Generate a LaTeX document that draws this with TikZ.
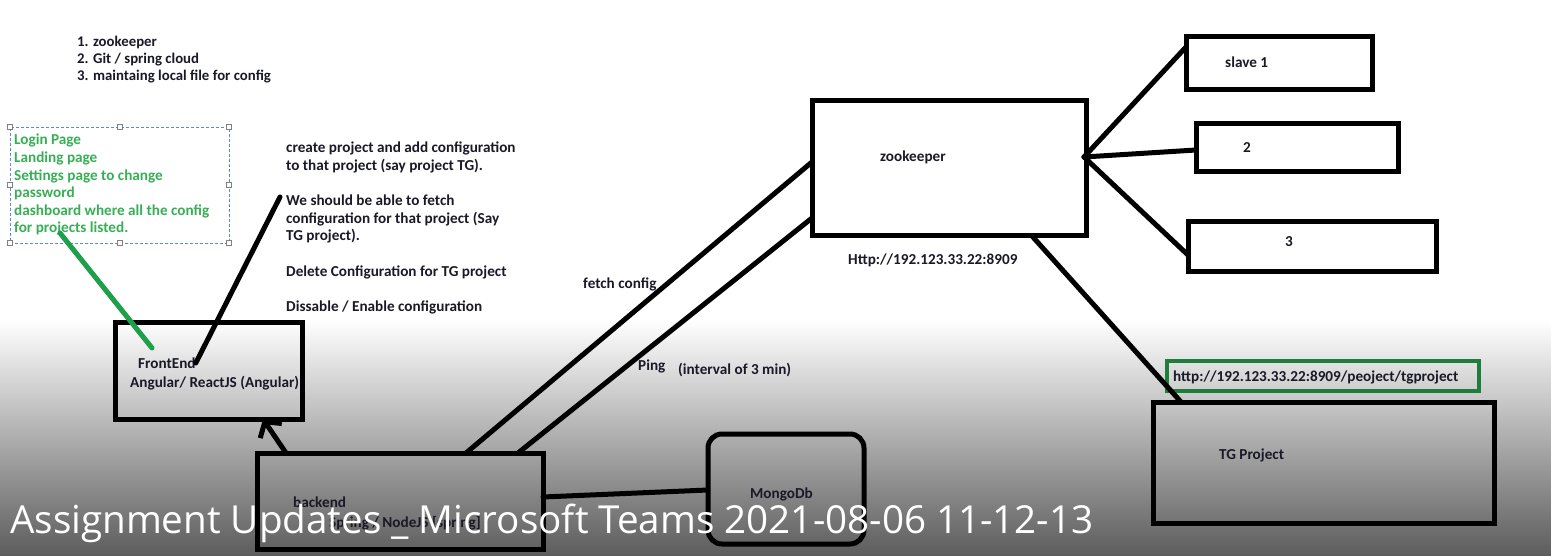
\documentclass[tikz,border=0pt]{standalone}
\usepackage{fontspec}
\setmainfont{Carlito}
\newfontfamily\titlefont{Open Sans}
\usetikzlibrary{arrows.meta,calc}
\definecolor{txt}{RGB}{25,25,40}
\definecolor{grn}{RGB}{55,175,85}
\definecolor{grnline}{RGB}{30,160,75}
\definecolor{urlgreen}{RGB}{30,125,60}
\definecolor{dashblue}{RGB}{90,140,210}
\definecolor{fadegray}{RGB}{92,92,92}
\begin{document}
\begin{tikzpicture}[x=1pt,y=-1pt,
  box/.style={draw=black,line width=5pt,inner sep=0,outer sep=0},
  conn/.style={draw=black,line width=5pt,line cap=round},
  lbl/.style={font=\bfseries\fontsize{15.2}{17.6}\selectfont,text=txt,inner sep=0,anchor=west},
  para/.style={lbl,align=left,anchor=north west},
  handle/.style={draw=gray,fill=white,minimum size=5pt,inner sep=0,line width=0.6pt}]
\useasboundingbox (0,0) rectangle (1551,556);
\fill[white] (0,0) rectangle (1551,556);
\shade[top color=white,bottom color=fadegray] (0,320) rectangle (1551,556);

% boxes
\node[box,minimum width=187pt,minimum height=97pt] (fe) at (208.5,370.5) {};
\node[box,minimum width=286pt,minimum height=96pt] (be) at (400,501) {};
\node[box,fill=white,minimum width=274pt,minimum height=135pt] (zk) at (949,168.5) {};
\node[box,fill=white,minimum width=186pt,minimum height=53pt] (s1) at (1279,63.5) {};
\node[box,fill=white,minimum width=202pt,minimum height=48pt] (s2) at (1297,148) {};
\node[box,fill=white,minimum width=248pt,minimum height=50pt] (s3) at (1312,247) {};
\node[box,minimum width=341pt,minimum height=121pt] (tg) at (1323.5,462.5) {};
\node[box,rounded corners=14pt,minimum width=156pt,minimum height=110pt] (mongo) at (786,489) {};
\node[draw=urlgreen,line width=4pt,inner sep=0,outer sep=0,minimum width=312pt,minimum height=30pt] (url) at (1323,376) {};
\node[draw=dashblue,line width=0.9pt,dash pattern=on 3pt off 2pt,inner sep=0,outer sep=0,minimum width=219pt,minimum height=116pt] (dash) at (119.5,185) {};
\foreach \a [count=\i] in {north west,north,north east,west,east,south west,south,south east}
  \node[handle] (h\i) at (dash.\a) {};

% texts
\node[para,font=\bfseries\fontsize{14.8}{17}\selectfont] (list) at (77,36) {1. zookeeper\\2. Git / spring cloud\\3. maintaing local file for config};
\node[para,text=grn] (green) at (14,134) {Login Page\\Landing page\\Settings page to change\\password\\dashboard where all the config\\for projects listed.};
\node[para] (para) at (286,142) {create project and add configuration\\to that project (say project TG).\\[17.6pt]We should be able to fetch\\configuration for that project (Say\\TG project).\\[17.6pt]Delete Configuration for TG project\\[17.6pt]Dissable / Enable configuration};
\node[lbl] (fe1) at (138,363) {FrontEnd};
\node[lbl] (fe2) at (130,383) {Angular/ ReactJS (Angular)};
\node[lbl] (be1) at (293,502) {backend};
\node[lbl] (be2) at (329,523) {Spring / NodeJS [spring]};
\node[lbl] (zk1) at (880,157) {zookeeper};
\node[lbl] (zk2) at (848,260) {Http://192.123.33.22:8909};
\node[lbl] (s1t) at (1225,62) {slave 1};
\node[lbl] (s2t) at (1243,148) {2};
\node[lbl] (s3t) at (1285,242) {3};
\node[lbl] (tgt) at (1219,455) {TG Project};
\node[lbl] (urlt) at (1173,377) {http://192.123.33.22:8909/peoject/tgproject};
\node[lbl] (mgt) at (750,494) {MongoDb};
\node[lbl] (fetch) at (583,284) {fetch config};
\node[lbl] (ping) at (638,366) {Ping};
\node[lbl] (intv) at (678,370) {(interval of 3 min)};

% connectors
\draw[conn,draw=grnline] ($(dash.south west)+(50,-10)$) -- ($(fe.north west)+(37,26)$);
\draw[conn] ($(para.north west)+(-6,55)$) -- (fe1.east);
\draw[conn,-{Straight Barb[length=11pt,width=26pt,line width=5pt]}] ($(be.north west)+(29,0)$) -- ($(fe.south west)+(148,0)$);
\draw[conn] ($(be.north west)+(209,0)$) -- ($(zk.north west)+(0,61)$);
\draw[conn] ($(be.north west)+(261,0)$) -- ($(zk.north west)+(0,117)$);
\coordinate (zkr) at ($(zk.north east)+(-2,56)$);
\draw[conn] (zkr) -- ($(s1.north west)+(0,10)$);
\draw[conn] (zkr) -- ($(s2.north west)+(0,26)$);
\draw[conn] (zkr) -- ($(s3.north west)+(0,33)$);
\draw[conn] ($(zk.south west)+(220,0)$) -- ($(tg.north west)+(28,0)$);
\draw[conn] ($(be.north east)+(0,44)$) -- ($(mongo.north west)+(0,56)$);

% title overlay
\node[inner sep=0,anchor=base west,text=white,font=\titlefont\fontsize{38.6}{46}\selectfont] (title) at (10,533) {Assignment Updates \_ Microsoft Teams 2021-08-06 11-12-13};
\end{tikzpicture}
\end{document}
